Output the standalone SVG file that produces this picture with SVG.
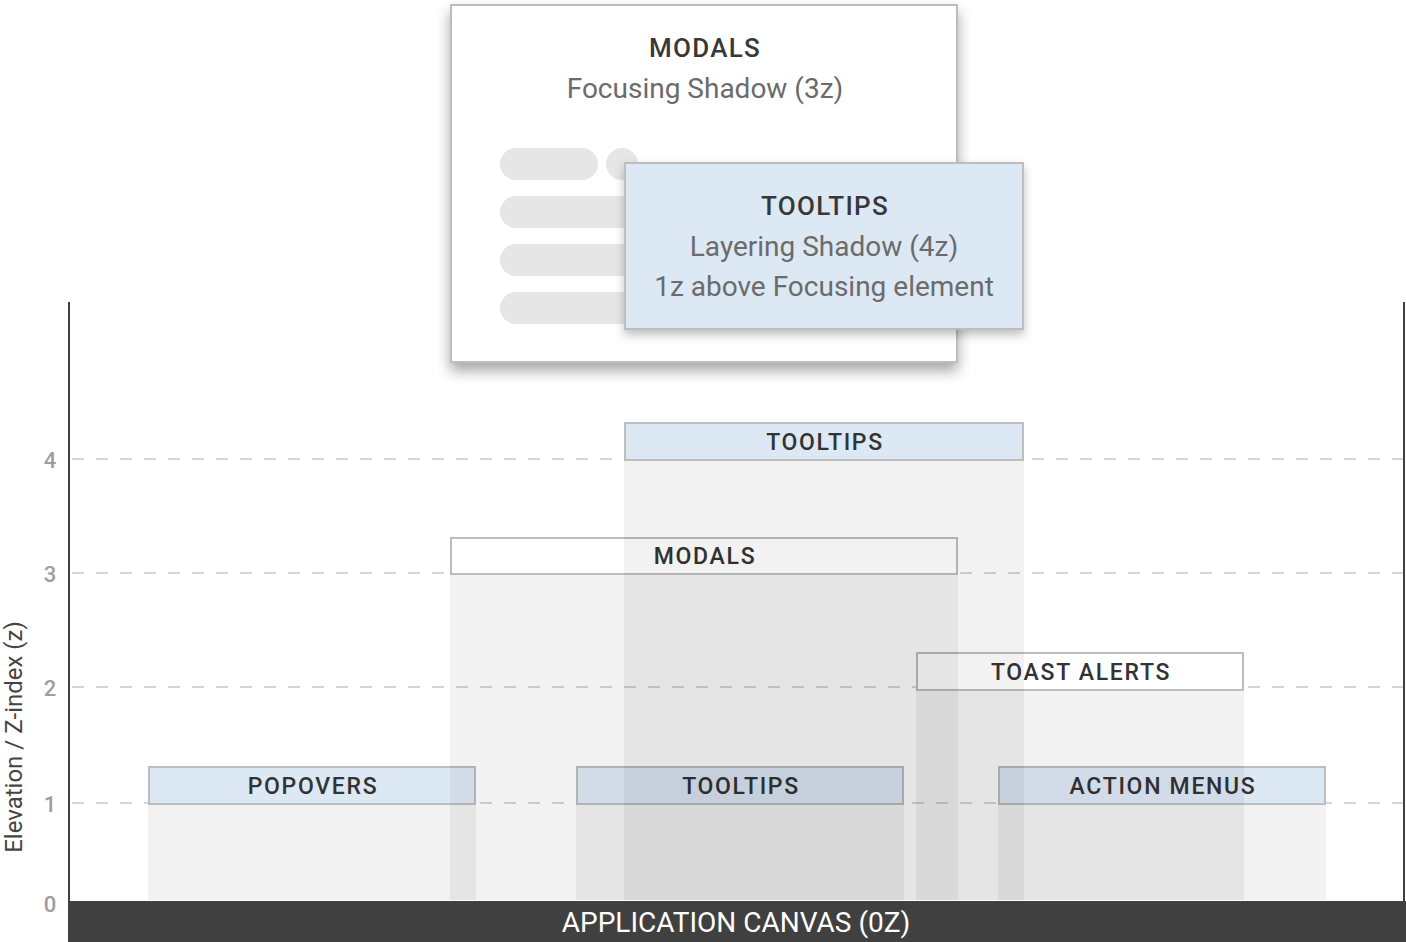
<svg xmlns="http://www.w3.org/2000/svg" width="1406" height="942" viewBox="0 0 1406 942">
<style>
  text { font-family: Roboto, "Liberation Sans", sans-serif; }
  .grid { stroke: #d6d6d6; stroke-width: 2; stroke-dasharray: 12 12; fill: none; }
  .tick { font-size: 22px; fill: #9e9e9e; text-anchor: middle; font-weight: 500; }
  .axis { stroke: #404040; stroke-width: 2; }
  .col { fill: #000; fill-opacity: 0.05; }
  .lbl-blue { fill: #dde8f5; stroke: #bdbdbd; stroke-width: 2; }
  .lbl-white { fill: #ffffff; stroke: #bdbdbd; stroke-width: 2; }
  .lbl { font-size: 23px; font-weight: 500; fill: #333; text-anchor: middle; letter-spacing: 1.7px; }
  .title { font-size: 26px; font-weight: 500; fill: #383838; text-anchor: middle; letter-spacing: 1.3px; }
  .sub { font-size: 28px; fill: #6b6b6b; text-anchor: middle; }
  .skel { fill: #e6e6e6; }
</style>
<defs>
  <filter id="shadow" x="-20%" y="-20%" width="140%" height="150%">
    <feDropShadow dx="0" dy="8" stdDeviation="7" flood-color="#000" flood-opacity="0.35"/>
  </filter>
  <filter id="shadow2" x="-20%" y="-20%" width="140%" height="150%">
    <feDropShadow dx="0" dy="5" stdDeviation="5" flood-color="#000" flood-opacity="0.25"/>
  </filter>
</defs>
<rect x="0" y="0" width="1406" height="942" fill="#ffffff"/>

<!-- axes and grid -->
<g id="axes">
  <line class="axis" x1="69" y1="302" x2="69" y2="942"/>
  <line class="axis" x1="1404" y1="302" x2="1404" y2="942"/>
  <line class="grid" x1="72" y1="459" x2="1403" y2="459"/>
  <line class="grid" x1="72" y1="573" x2="1403" y2="573"/>
  <line class="grid" x1="72" y1="687" x2="1403" y2="687"/>
  <line class="grid" x1="72" y1="803" x2="1403" y2="803"/>
  <text class="tick" x="50" y="468">4</text>
  <text class="tick" x="50" y="582">3</text>
  <text class="tick" x="50" y="696">2</text>
  <text class="tick" x="50" y="812">1</text>
  <text class="tick" x="50" y="912">0</text>
  <text x="22" y="737" transform="rotate(-90 22 737)" font-size="24" fill="#444" text-anchor="middle">Elevation / Z-index (z)</text>
</g>

<!-- bottom canvas -->
<g id="canvas">
  <rect x="68" y="901" width="1338" height="41" fill="#404040"/>
  <text x="736" y="932" font-size="28" fill="#ffffff" text-anchor="middle">APPLICATION CANVAS (0Z)</text>
</g>

<!-- elevation labels -->
<g id="tooltips-top">
  <rect class="lbl-blue" x="625" y="423" width="398" height="37"/>
  <text class="lbl" x="825" y="450">TOOLTIPS</text>
</g>
<g id="modals-bar">
  <rect class="lbl-white" x="451" y="538" width="506" height="36"/>
  <text class="lbl" x="705" y="564">MODALS</text>
</g>
<g id="toast-alerts">
  <rect class="lbl-white" x="917" y="653" width="326" height="37"/>
  <text class="lbl" x="1081" y="680">TOAST ALERTS</text>
</g>
<g id="popovers">
  <rect class="lbl-blue" x="149" y="767" width="326" height="37"/>
  <text class="lbl" x="313" y="794">POPOVERS</text>
</g>
<g id="tooltips-low">
  <rect class="lbl-blue" x="577" y="767" width="326" height="37"/>
  <text class="lbl" x="741" y="794">TOOLTIPS</text>
</g>
<g id="action-menus">
  <rect class="lbl-blue" x="999" y="767" width="326" height="37"/>
  <text class="lbl" x="1163" y="794">ACTION MENUS</text>
</g>

<!-- elevation columns (translucent) -->
<g id="columns">
  <rect class="col" x="624" y="461" width="400" height="439"/>
  <rect class="col" x="450" y="575" width="508" height="325"/>
  <rect class="col" x="916" y="691" width="328" height="209"/>
  <rect class="col" x="148" y="805" width="328" height="95"/>
  <rect class="col" x="576" y="805" width="328" height="95"/>
  <rect class="col" x="998" y="805" width="328" height="95"/>
</g>

<!-- modal card -->
<g id="modal-card">
  <rect x="451" y="5" width="506" height="357" fill="#ffffff" stroke="#bdbdbd" stroke-width="2" filter="url(#shadow)"/>
  <text class="title" x="705" y="57">MODALS</text>
  <text class="sub" x="705" y="98">Focusing Shadow (3z)</text>
  <rect class="skel" x="500" y="148" width="98" height="32" rx="16"/>
  <rect class="skel" x="606" y="148" width="32" height="32" rx="16"/>
  <rect class="skel" x="500" y="196" width="300" height="32" rx="16"/>
  <rect class="skel" x="500" y="244" width="300" height="32" rx="16"/>
  <rect class="skel" x="500" y="292" width="300" height="32" rx="16"/>
</g>

<!-- tooltip card -->
<g id="tooltip-card">
  <rect x="625" y="163" width="398" height="166" fill="#dde8f5" stroke="#bdbdbd" stroke-width="2" filter="url(#shadow2)"/>
  <text class="title" x="825" y="215">TOOLTIPS</text>
  <text class="sub" x="824" y="256">Layering Shadow (4z)</text>
  <text class="sub" x="824" y="296">1z above Focusing element</text>
</g>
</svg>
